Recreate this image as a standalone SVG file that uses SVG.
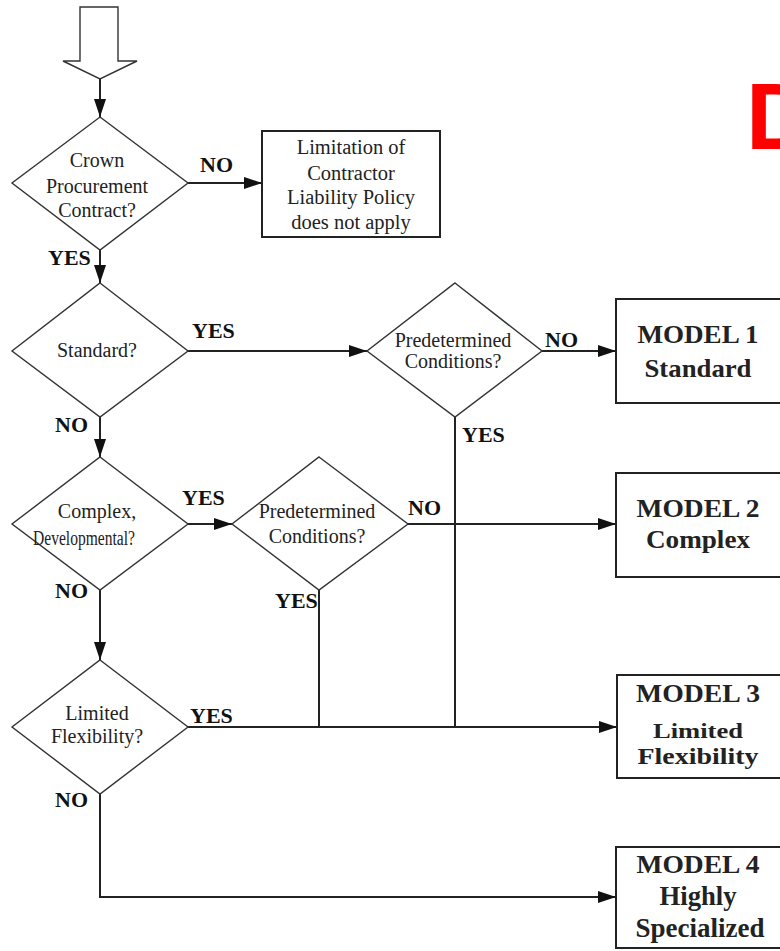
<svg xmlns="http://www.w3.org/2000/svg" width="780" height="951" viewBox="0 0 780 951">
<defs>
<marker id="ah" markerUnits="userSpaceOnUse" markerWidth="18" markerHeight="12" viewBox="0 0 18 12" refX="18" refY="6" orient="auto">
<path d="M0,0 L18,6 L0,12 z" fill="#111"/>
</marker>
<style>
.shape{fill:#fff;stroke:#333;stroke-width:1.4}
.box{fill:#fff;stroke:#222;stroke-width:2}
.edge{fill:none;stroke:#222;stroke-width:2}
.arr{marker-end:url(#ah)}
.q{font-family:"Liberation Serif","Times New Roman",serif;font-size:20px;fill:#222;text-anchor:middle}
.lbl{font-family:"Liberation Serif","Times New Roman",serif;font-size:22px;font-weight:bold;fill:#111}
.m{font-family:"Liberation Serif","Times New Roman",serif;font-size:25px;font-weight:bold;fill:#222;text-anchor:middle}
</style>
</defs>
<rect width="780" height="951" fill="#fff"/>

<g id="start">
<polygon class="shape" points="80,7 118,7 118,61 137,61 100,79 63,61 80,61"/>
</g>

<g id="connectors">
<line class="edge arr" x1="100" y1="79" x2="100" y2="117"/>
<line class="edge arr" x1="188" y1="183" x2="262" y2="183"/>
<line class="edge arr" x1="100" y1="250" x2="100" y2="283"/>
<line class="edge arr" x1="188" y1="351" x2="367" y2="351"/>
<line class="edge arr" x1="542" y1="351" x2="616" y2="351"/>
<line class="edge arr" x1="100" y1="417" x2="100" y2="457"/>
<line class="edge arr" x1="188" y1="524" x2="232" y2="524"/>
<line class="edge arr" x1="408" y1="524" x2="616" y2="524"/>
<line class="edge arr" x1="100" y1="590" x2="100" y2="660"/>
<line class="edge" x1="455" y1="417" x2="455" y2="727"/>
<line class="edge" x1="319" y1="590" x2="319" y2="727"/>
<line class="edge arr" x1="188" y1="727" x2="617" y2="727"/>
<polyline class="edge arr" points="100,794 100,897 616,897"/>
</g>

<g id="labels">
<text class="lbl" x="200" y="172">NO</text>
<text class="lbl" x="48" y="265">YES</text>
<text class="lbl" x="192" y="338">YES</text>
<text class="lbl" x="55" y="432">NO</text>
<text class="lbl" x="545" y="347">NO</text>
<text class="lbl" x="462" y="442">YES</text>
<text class="lbl" x="182" y="505">YES</text>
<text class="lbl" x="408" y="515">NO</text>
<text class="lbl" x="55" y="598">NO</text>
<text class="lbl" x="275" y="608">YES</text>
<text class="lbl" x="190" y="723">YES</text>
<text class="lbl" x="55" y="807">NO</text>
</g>

<g id="crown">
<polygon class="shape" points="100,117 188,183 100,250 12,183"/>
<text class="q" x="97" y="167">Crown</text>
<text class="q" x="97" y="193">Procurement</text>
<text class="q" x="97" y="217">Contract?</text>
</g>

<g id="notapply">
<rect class="box" x="262" y="131" width="178" height="106"/>
<text class="q" x="351" y="154" style="font-size:20.5px">Limitation of</text>
<text class="q" x="351" y="180" style="font-size:20.5px">Contractor</text>
<text class="q" x="351" y="204" style="font-size:20.5px">Liability Policy</text>
<text class="q" x="351" y="229" style="font-size:20.5px">does not apply</text>
</g>

<g id="standard">
<polygon class="shape" points="100,283 188,351 100,417 12,351"/>
<text class="q" x="97" y="357">Standard?</text>
</g>

<g id="pred1">
<polygon class="shape" points="455,283 542,351 455,417 367,351"/>
<text class="q" x="453" y="347">Predetermined</text>
<text class="q" x="453" y="368">Conditions?</text>
</g>

<g id="model1">
<rect class="box" x="616" y="299" width="190" height="104"/>
<text class="m" x="698" y="343" textLength="121" lengthAdjust="spacingAndGlyphs">MODEL 1</text>
<text class="m" x="698" y="377" textLength="107" lengthAdjust="spacingAndGlyphs">Standard</text>
</g>

<g id="complex">
<polygon class="shape" points="100,457 188,524 100,590 12,524"/>
<text class="q" x="97" y="518">Complex,</text>
<text class="q" x="84" y="545" textLength="102" lengthAdjust="spacingAndGlyphs">Developmental?</text>
</g>

<g id="pred2">
<polygon class="shape" points="319,457 408,524 319,590 232,524"/>
<text class="q" x="317" y="518">Predetermined</text>
<text class="q" x="317" y="543">Conditions?</text>
</g>

<g id="model2">
<rect class="box" x="616" y="473" width="190" height="104"/>
<text class="m" x="698" y="517" textLength="123" lengthAdjust="spacingAndGlyphs">MODEL 2</text>
<text class="m" x="698" y="548" textLength="104" lengthAdjust="spacingAndGlyphs">Complex</text>
</g>

<g id="limited">
<polygon class="shape" points="100,660 188,727 100,794 12,727"/>
<text class="q" x="97" y="720">Limited</text>
<text class="q" x="97" y="743">Flexibility?</text>
</g>

<g id="model3">
<rect class="box" x="617" y="675" width="190" height="103"/>
<text class="m" x="698" y="702" textLength="124" lengthAdjust="spacingAndGlyphs">MODEL 3</text>
<text class="m" x="698" y="738" style="font-size:22px" textLength="90" lengthAdjust="spacingAndGlyphs">Limited</text>
<text class="m" x="698" y="764" style="font-size:23px" textLength="121" lengthAdjust="spacingAndGlyphs">Flexibility</text>
</g>

<g id="model4">
<rect class="box" x="616" y="847" width="190" height="101"/>
<text class="m" x="698" y="873" style="font-size:26px" textLength="123" lengthAdjust="spacingAndGlyphs">MODEL 4</text>
<text class="m" x="698" y="905" style="font-size:27px" textLength="77" lengthAdjust="spacingAndGlyphs">Highly</text>
<text class="m" x="700" y="937" style="font-size:27px" textLength="129" lengthAdjust="spacingAndGlyphs">Specialized</text>
</g>

<text x="746" y="149" font-family="'Liberation Sans',Arial,sans-serif" font-weight="bold" font-size="94" fill="#ff0000">D</text>
</svg>
